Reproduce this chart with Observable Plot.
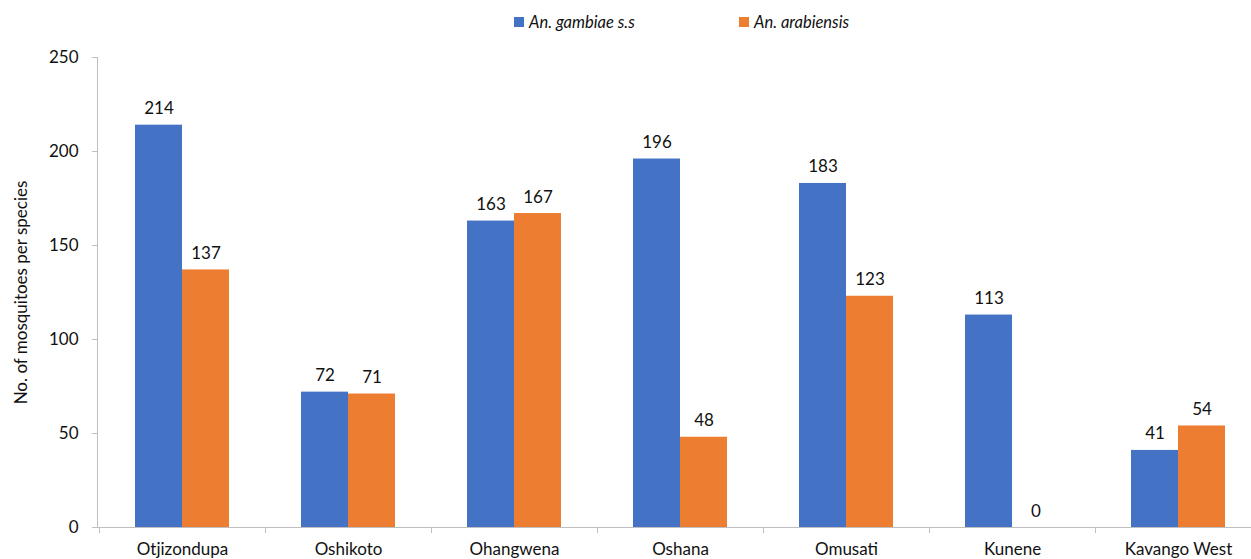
<!DOCTYPE html>
<html>
<head>
<meta charset="utf-8">
<script src="https://cdn.jsdelivr.net/npm/d3@7"></script>
<script src="https://cdn.jsdelivr.net/npm/@observablehq/plot@0.6"></script>
<style>
  html, body { margin: 0; padding: 0; background: #fff; }
  body { width: 1251px; height: 559px; overflow: hidden; font-family: Lato, "Open Sans", sans-serif; color: #111; }
  #legend { position: relative; height: 40px; font-size: 16.5px; font-style: italic; }
  .item { position: absolute; top: 12px; display: flex; align-items: center; }
  .sw { width: 10px; height: 10px; margin-right: 5px; }
  svg { display: block; }
</style>
</head>
<body>
<div id="legend"></div>
<div id="chart"></div>
<script>
const regions = ["Otjizondupa", "Oshikoto", "Ohangwena", "Oshana", "Omusati", "Kunene", "Kavango West"];
const gambiae = [214, 72, 163, 196, 183, 113, 41];
const arabiensis = [137, 71, 167, 48, 123, 0, 54];
const seriesNames = ["An. gambiae s.s", "An. arabiensis"];
const seriesColors = ["#4472C4", "#ED7D31"];
const yTicks = [0, 50, 100, 150, 200, 250];

const g = regions.map((r, i) => ({region: r, value: gambiae[i]}));
const a = regions.map((r, i) => ({region: r, value: arabiensis[i]}));

// legend
const legend = document.getElementById("legend");
[[514, 0], [739, 1]].forEach(([left, k]) => {
  const it = document.createElement("div");
  it.className = "item";
  it.style.left = left + "px";
  it.innerHTML = `<span class="sw" style="background:${seriesColors[k]}"></span><span>${seriesNames[k]}</span>`;
  legend.appendChild(it);
});

const half = 83, barW = 47;
const chart = Plot.plot({
  width: 1251,
  height: 519,
  marginLeft: 97,
  marginRight: 0,
  marginTop: 17,
  marginBottom: 32,
  style: {fontFamily: "Lato, 'Open Sans', sans-serif", fontSize: "16px", color: "#111", overflow: "hidden"},
  x: {domain: regions, range: [98, 1262], padding: 0},
  y: {domain: [0, 250], ticks: yTicks},
  marks: [
    Plot.barY(g, {x: "region", y: "value", fill: seriesColors[0], insetLeft: half - barW, insetRight: half}),
    Plot.barY(a, {x: "region", y: "value", fill: seriesColors[1], insetLeft: half, insetRight: half - barW}),
    Plot.text(g, {x: "region", y: "value", text: d => String(d.value), dx: -barW / 2, dy: -11, lineAnchor: "bottom", fontSize: 17}),
    Plot.text(a, {x: "region", y: "value", text: d => String(d.value), dx: barW / 2, dy: -11, lineAnchor: "bottom", fontSize: 17}),
    Plot.axisY({ticks: yTicks, tickSize: 5, tickPadding: 14, stroke: "#bfbfbf", fontSize: 17,
      label: "No. of mosquitoes per species", labelAnchor: "center", labelArrow: "none", labelOffset: 83}),
    Plot.axisX({tickSize: 0, tickPadding: 15, fontSize: 17, label: null}),
    Plot.axisX({tickSize: 6, tickFormat: () => "", dx: -half, stroke: "#bfbfbf", label: null}),
    Plot.frame({anchor: "left", stroke: "#bfbfbf"}),
    Plot.ruleY([0], {stroke: "#bfbfbf", insetLeft: -5})
  ]
});
document.getElementById("chart").appendChild(chart);
</script>
</body>
</html>
